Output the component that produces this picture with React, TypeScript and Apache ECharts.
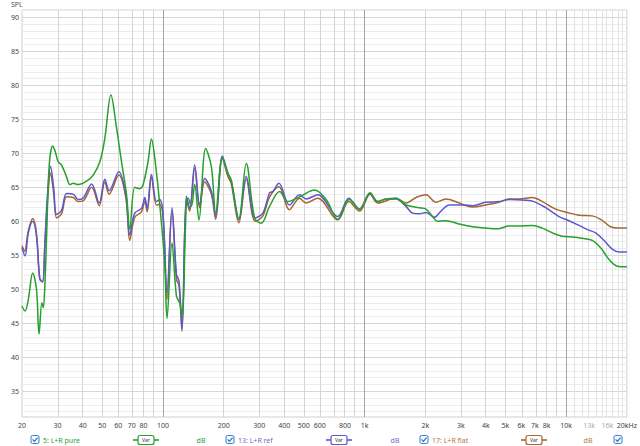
import React, { useEffect, useRef } from "react";
import * as echarts from "echarts";

// ---------- data ----------
const pureFreq = [20, 20.7, 21.5, 22.6, 23.6, 24.3, 25.1, 25.5, 26.0, 26.5, 27.3, 28.4, 29.2, 30.2, 31.4, 33.3, 34.6, 35.9, 38.0, 41.8, 45.1, 48.7, 51.5, 55.2, 58.9, 62.3, 66.0, 68.5, 72.5, 76.8, 79.7, 84.4, 87.7, 91.1, 96.4, 102, 104.8, 110.9, 116.7, 121.1, 124.3, 130.7, 133.1, 138.4, 143.7, 150.9, 162.9, 173.9, 182.6, 197.1, 210, 218, 238, 259, 285, 307, 338, 379, 416, 476, 564, 645, 736, 841, 943, 1065, 1161, 1278, 1432, 1605, 1868, 2016, 2173, 2302, 2532, 2947, 3429, 3995, 4559, 5208, 5839, 6796, 7616, 8537, 9565, 10721, 12016, 13464, 14818, 16292, 17906, 20000];
const pureDb = [47.5, 46.8, 48.5, 52.4, 50.0, 43.4, 48.0, 47.3, 51.0, 58.0, 68.3, 71.1, 70.3, 68.8, 68.3, 66.5, 65.4, 65.6, 65.4, 65.9, 66.8, 68.8, 72.2, 78.6, 73.7, 68.8, 63.9, 58.8, 65.0, 64.8, 65.4, 68.8, 72.1, 69.3, 62.5, 53.9, 45.7, 56.8, 49.0, 48.0, 46.0, 62.7, 63.4, 62.2, 65.4, 60.2, 70.7, 68.0, 61.2, 69.3, 67.0, 66.0, 60.4, 68.5, 60.5, 59.7, 62.2, 64.4, 62.9, 63.6, 64.6, 63.2, 60.3, 63.2, 61.8, 64.2, 62.9, 63.3, 63.4, 62.4, 62.0, 61.8, 60.7, 60.0, 60.1, 59.6, 59.2, 59.0, 58.9, 59.3, 59.3, 59.4, 59.0, 58.3, 57.8, 57.7, 57.5, 57.2, 56.1, 54.4, 53.4, 53.3];

const refFreq = [20, 20.7, 21.5, 22.6, 23.6, 24.5, 25.3, 26.0, 26.7, 27.7, 28.7, 29.7, 31.4, 33.3, 35.9, 38.0, 40.2, 44.3, 48.3, 51.5, 54.1, 60.4, 65.5, 68.5, 72.5, 78.3, 81.3, 83.5, 87.7, 92.9, 96.4, 100.2, 104.8, 110.9, 116.7, 120.2, 124.3, 130.7, 135.7, 143.7, 152.1, 161.1, 173.9, 182.6, 197.1, 210, 218, 238, 259, 287, 313, 338, 351, 376, 424, 476, 513, 586, 736, 835, 943, 1065, 1161, 1278, 1432, 1605, 1730, 1868, 2016, 2216, 2392, 2630, 3059, 3429, 3995, 4648, 5208, 6302, 6928, 7917, 9212, 10125, 11572, 12966, 13996, 15385, 16916, 18256, 20000];
const refDb = [56.1, 54.9, 58.3, 60.0, 57.8, 51.5, 51.1, 57.0, 63.5, 68.1, 65.0, 61.0, 61.6, 64.1, 64.0, 63.2, 63.4, 65.5, 62.7, 66.2, 64.5, 67.3, 63.9, 58.0, 61.2, 61.9, 63.5, 61.9, 66.9, 62.9, 63.2, 61.0, 49.5, 62.0, 52.2, 51.2, 44.2, 63.7, 61.9, 68.3, 62.4, 66.3, 64.4, 60.7, 69.6, 67.1, 66.1, 60.2, 66.6, 60.5, 61.2, 64.2, 64.4, 65.6, 62.4, 63.9, 63.3, 63.9, 60.7, 63.4, 61.8, 64.1, 62.9, 63.3, 63.3, 62.2, 61.2, 61.1, 61.3, 60.6, 61.5, 62.4, 62.4, 62.3, 62.8, 62.9, 63.2, 63.1, 62.9, 62.0, 60.7, 60.2, 59.4, 58.7, 58.3, 57.2, 55.9, 55.5, 55.5];

const flatFreq = [20, 20.6, 21.5, 22.6, 23.6, 24.5, 25.3, 26.0, 26.7, 27.7, 28.7, 29.7, 31.4, 33.3, 35.9, 38.0, 40.2, 44.3, 48.3, 51.5, 54.1, 60.4, 65.5, 68.5, 72.5, 78.3, 81.3, 83.5, 87.7, 92.9, 96.4, 100.2, 104.8, 110.9, 116.7, 120.2, 124.3, 130.7, 135.7, 143.7, 152.1, 161.1, 173.9, 182.6, 197.1, 210, 218, 238, 259, 287, 313, 338, 376, 424, 476, 513, 586, 736, 835, 943, 1065, 1161, 1432, 1605, 1800, 2016, 2259, 2532, 2947, 3429, 3995, 4648, 5208, 5839, 6796, 7616, 8874, 10125, 11572, 13464, 14818, 16610, 18256, 20000];
const flatDb = [56.4, 55.6, 58.6, 60.4, 58.2, 51.6, 51.1, 57.0, 62.5, 67.1, 64.2, 60.5, 61.1, 63.6, 63.5, 62.9, 63.0, 65.0, 62.3, 65.8, 64.0, 66.8, 63.4, 57.2, 60.6, 61.4, 63.0, 61.4, 66.5, 62.4, 62.5, 60.5, 48.5, 61.5, 51.5, 50.5, 43.8, 63.3, 61.5, 67.8, 62.0, 65.8, 64.0, 60.3, 69.3, 66.6, 65.6, 59.8, 66.2, 60.0, 60.8, 63.6, 65.1, 61.7, 63.4, 62.7, 63.4, 60.2, 62.9, 61.5, 64.0, 62.7, 63.4, 62.7, 63.5, 63.9, 62.8, 63.3, 62.7, 62.1, 62.4, 62.8, 63.3, 63.3, 63.5, 62.9, 61.8, 61.3, 60.9, 60.8, 60.3, 59.2, 59.0, 59.0];

const seriesNames = ["5: L+R pure", "13: L+R ref", "17: L+R flat"];
const seriesColors = ["#23a12b", "#5b58d0", "#a8652c"];
const legendTextColors = ["#2f9e35", "#7a68c8", "#b07a42"];

const xTickValues = [20, 30, 40, 50, 60, 70, 80, 100, 200, 300, 400, 500, 600, 800, 1000, 2000, 3000, 4000, 5000, 6000, 7000, 8000, 10000, 13000, 16000, 20000];
const xTickText = ["20", "30", "40", "50", "60", "70", "80", "100", "200", "300", "400", "500", "600", "800", "1k", "2k", "3k", "4k", "5k", "6k", "7k", "8k", "10k", "13k", "16k", "20kHz"];
const xTickFaint = ["13k", "16k"];
const yTickValues = [35, 40, 45, 50, 55, 60, 65, 70, 75, 80, 85, 90];

const xGridMinor = [30, 40, 50, 60, 70, 80, 90, 200, 300, 400, 500, 600, 700, 800, 900, 2000, 3000, 4000, 5000, 6000, 7000, 8000, 9000];
const xGridFine = [11000, 12000, 13000, 14000, 15000, 16000, 17000, 18000, 19000];
const xGridMajor = [100, 1000, 10000];

const X_MIN = 20;
const X_MAX = 20000;
const Y_MIN = 31.2;
const Y_MAX = 91.1;

const FONT = '"Noto Sans", "Open Sans", sans-serif';

function lg(f: number) {
  return Math.log10(f);
}

export default function App() {
  const ref = useRef<HTMLDivElement>(null);

  useEffect(() => {
    if (!ref.current) return;
    const chart = echarts.init(ref.current, null, { renderer: "svg" });

    const yLines: any[] = [];
    for (let v = Math.ceil(Y_MIN); v <= Math.floor(Y_MAX); v++) {
      const major = v % 5 === 0;
      yLines.push({ yAxis: v, lineStyle: { color: major ? "#d6d6d6" : "#ececec", width: 1, type: "solid" } });
    }
    const xLines: any[] = [];
    xGridMinor.forEach((f) => xLines.push({ xAxis: lg(f), lineStyle: { color: "#d4d4d4", width: 1, type: "solid" } }));
    xGridFine.forEach((f) => xLines.push({ xAxis: lg(f), lineStyle: { color: "#e2e2e2", width: 1, type: "solid" } }));
    xGridMajor.forEach((f) => xLines.push({ xAxis: lg(f), lineStyle: { color: "#a6a6a6", width: 1, type: "solid" } }));

    const mk = (fr: number[], db: number[]) => fr.map((f, i) => [lg(f), db[i]]);
    const curves = [mk(pureFreq, pureDb), mk(refFreq, refDb), mk(flatFreq, flatDb)];

    const labelText = (v: number) => {
      let best = 0;
      let bd = Infinity;
      xTickValues.forEach((t, i) => {
        const d = Math.abs(lg(t) - v);
        if (d < bd) {
          bd = d;
          best = i;
        }
      });
      const s = xTickText[best];
      return xTickFaint.indexOf(s) >= 0 ? "{f|" + s + "}" : s;
    };

    // legend graphics
    const graphics: any[] = [];
    graphics.push({
      type: "text",
      left: 11,
      top: 1,
      style: { text: "SPL", fill: "#555", font: "7px " + FONT },
    });
    const baseY = 440;
    const checkbox = (cx: number) => [
      {
        type: "rect",
        shape: { x: cx - 4, y: baseY - 4.5, width: 8, height: 8, r: 1.5 },
        style: { fill: "#f4f9ff", stroke: "#3b7fca", lineWidth: 1 },
      },
      {
        type: "polyline",
        shape: { points: [[cx - 2.4, baseY - 0.6], [cx - 0.6, baseY + 1.4], [cx + 2.6, baseY - 2.4]] },
        style: { stroke: "#2a6fc0", lineWidth: 1.1, fill: "none" },
      },
    ];
    const groupStarts = [35, 230, 424];
    const varCenters = [146, 339, 534];
    const dbCenters = [201, 395, 588];
    seriesNames.forEach((name, i) => {
      const cx = groupStarts[i];
      graphics.push(...checkbox(cx));
      graphics.push({
        type: "text",
        x: cx + 8,
        y: baseY,
        style: { text: name, fill: legendTextColors[i], font: "7px " + FONT, align: "left", verticalAlign: "middle" },
      });
      const vc = varCenters[i];
      graphics.push({
        type: "line",
        shape: { x1: vc - 13, y1: baseY, x2: vc + 13, y2: baseY },
        style: { stroke: seriesColors[i], lineWidth: 1.6 },
      });
      graphics.push({
        type: "rect",
        shape: { x: vc - 8, y: baseY - 4.5, width: 16, height: 9, r: 2 },
        style: { fill: "#ffffff", stroke: seriesColors[i], lineWidth: 1.2 },
      });
      graphics.push({
        type: "text",
        x: vc,
        y: baseY,
        style: { text: "Var", fill: "#333", font: "5px " + FONT, align: "center", verticalAlign: "middle" },
      });
      graphics.push({
        type: "text",
        x: dbCenters[i],
        y: baseY,
        style: { text: "dB", fill: legendTextColors[i], font: "7px " + FONT, align: "center", verticalAlign: "middle" },
      });
    });
    graphics.push(...checkbox(618));

    const option: any = {
      animation: false,
      backgroundColor: "#ffffff",
      grid: {
        left: 22,
        right: 12,
        top: 10,
        bottom: 29,
        show: true,
        borderColor: "#cfcfcf",
        borderWidth: 1,
        containLabel: false,
      },
      xAxis: {
        type: "value",
        min: lg(X_MIN),
        max: lg(X_MAX),
        axisLine: { show: false },
        axisTick: { show: false },
        splitLine: { show: false },
        axisLabel: {
          customValues: xTickValues.map(lg),
          formatter: labelText,
          color: "#444",
          fontSize: 7,
          fontFamily: FONT,
          margin: 5,
          rich: { f: { color: "#aaaaaa", fontSize: 7, fontFamily: FONT } },
        },
      },
      yAxis: {
        type: "value",
        min: Y_MIN,
        max: Y_MAX,
        axisLine: { show: false },
        axisTick: { show: false },
        splitLine: { show: false },
        axisLabel: {
          customValues: yTickValues,
          color: "#444",
          fontSize: 7,
          fontFamily: FONT,
          margin: 3,
        },
      },
      graphic: graphics,
      series: [
        {
          type: "line",
          name: "grid",
          data: [],
          z: 1,
          silent: true,
          markLine: {
            silent: true,
            z: 1,
            symbol: ["none", "none"],
            label: { show: false },
            emphasis: { disabled: true },
            animation: false,
            data: [...yLines, ...xLines],
          },
        },
        ...[2, 1, 0].map((i) => ({
          type: "line",
          name: seriesNames[i],
          data: curves[i],
          showSymbol: false,
          symbol: "none",
          smooth: 0.35,
          z: 10 + (2 - i),
          lineStyle: { color: seriesColors[i], width: 1.5, type: "solid" },
          itemStyle: { color: seriesColors[i] },
          emphasis: { disabled: true },
          silent: true,
        })),
      ],
    };

    chart.setOption(option);
    return () => chart.dispose();
  }, []);

  return (
    <div
      ref={ref}
      style={{ position: "fixed", left: 0, top: 0, width: 640, height: 446, background: "#fff" }}
    />
  );
}
